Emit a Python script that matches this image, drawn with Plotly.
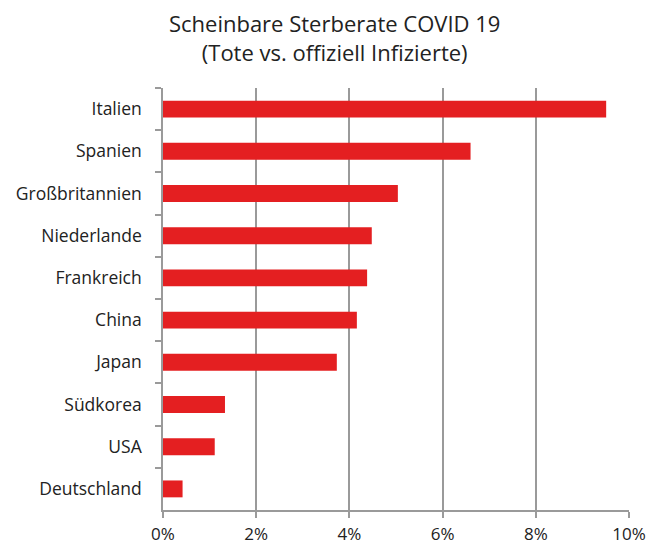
import plotly.graph_objects as go

countries = ["Italien", "Spanien", "Großbritannien", "Niederlande", "Frankreich",
             "China", "Japan", "Südkorea", "USA", "Deutschland"]
rates = [0.0951, 0.0660, 0.0504, 0.0448, 0.0438, 0.0416, 0.0373, 0.0133, 0.0111, 0.0042]
x_ticks = [0, 0.02, 0.04, 0.06, 0.08, 0.10]
x_tick_labels = ["0%", "2%", "4%", "6%", "8%", "10%"]
title_text = "Scheinbare Sterberate COVID 19<br>(Tote vs. offiziell Infizierte)"

FONT = "Open Sans"
TXT = "#222222"
GRID = "#9a9a9a"

fig = go.Figure(go.Bar(
    x=rates, y=countries, orientation="h",
    marker=dict(color="#E41F21", line=dict(width=0)),
))

fig.update_layout(
    width=660, height=544,
    margin=dict(l=155, r=39, t=80, b=42, autoexpand=False),
    paper_bgcolor="white", plot_bgcolor="white",
    bargap=0.6,
    showlegend=False,
    font=dict(family=FONT, size=17, color=TXT),
    title=dict(text=title_text, x=0.495, xanchor="center", xref="container",
               y=0.955, yanchor="top", yref="container",
               font=dict(family=FONT, size=22, color=TXT)),
)

fig.update_xaxes(
    range=[0, 0.1], tickvals=x_ticks, ticktext=x_tick_labels,
    showgrid=True, gridcolor=GRID, gridwidth=1.5,
    showline=True, linecolor=GRID, linewidth=1.5,
    ticks="outside", ticklen=6, tickcolor=GRID, tickwidth=1.5,
    zeroline=False, fixedrange=True, automargin=False,
    ticklabelstandoff=2,
    tickfont=dict(family=FONT, size=17, color=TXT),
)
fig.update_yaxes(
    categoryorder="array", categoryarray=countries, autorange="reversed",
    showline=True, linecolor=GRID, linewidth=1.5,
    ticks="outside", ticklen=6, tickcolor=GRID, tickwidth=1.5,
    tickson="boundaries", showgrid=False, automargin=False,
    ticklabelstandoff=16,
    tickfont=dict(family=FONT, size=17.5, color=TXT),
)

fig.write_html("out.html")
